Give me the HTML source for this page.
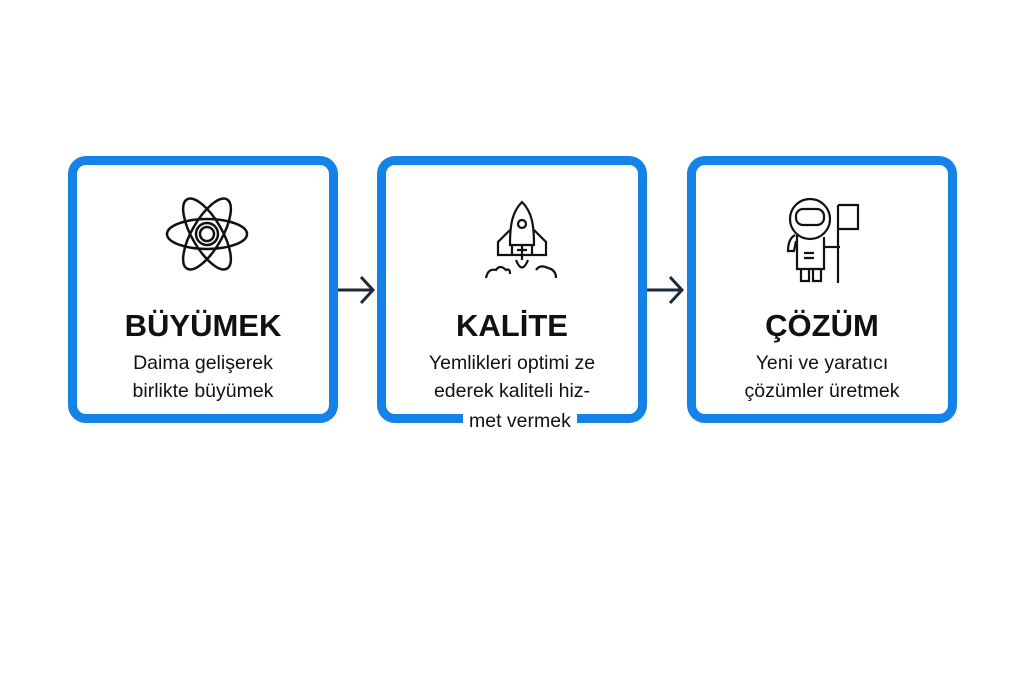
<!DOCTYPE html>
<html><head><meta charset="utf-8"><style>
body{margin:0;width:1024px;height:683px;background:#fff;position:relative;overflow:hidden;font-family:"Liberation Sans",sans-serif;}
.box{position:absolute;top:156px;width:252px;height:249px;border:9px solid #1482e6;border-radius:18px;background:#fff;}
.t{position:absolute;left:0;right:0;top:143px;text-align:center;font-weight:bold;font-size:31px;color:#111;letter-spacing:0px;}
.d{position:absolute;left:0;right:0;top:184px;text-align:center;font-size:19.5px;line-height:28px;color:#111;}
svg{position:absolute;}
</style></head><body>
<div class="box" style="left:68px">
<svg style="left:82px;top:21px" width="96" height="96" viewBox="0 0 96 96" fill="none" stroke="#111" stroke-width="2.5">
<ellipse cx="48" cy="48" rx="40" ry="15"/><ellipse cx="48" cy="48" rx="40" ry="15" transform="rotate(60 48 48)"/><ellipse cx="48" cy="48" rx="40" ry="15" transform="rotate(120 48 48)"/><circle cx="48" cy="48" r="11"/><circle cx="48" cy="48" r="7"/></svg>
<div class="t">BÜYÜMEK</div>
<div class="d">Daima gelişerek<br>birlikte büyümek</div>
</div>
<div class="box" style="left:377px">
<svg style="left:96px;top:35px" width="80" height="85" viewBox="0 0 80 85" fill="none" stroke="#111" stroke-width="2.2">
<path d="M40 2 C30 12 28 25 28 45 L52 45 C52 25 50 12 40 2Z"/><circle cx="40" cy="24" r="4"/><path d="M28 30 L16 42 L16 55 L64 55 L64 42 L52 30"/><path d="M30 45 L30 55 M50 45 L50 55 M35 50 L45 50 M40 45 L40 60"/><path d="M34 60 Q40 75 46 60"/><path d="M4 78 Q6 68 14 70 Q18 64 24 70 Q28 68 28 74"/><path d="M54 70 Q58 64 66 68 Q74 70 74 78"/></svg>
<div class="t">KALİTE</div>
<div class="d">Yemlikleri optimi ze<br>ederek kaliteli hiz-</div>
<div style="position:absolute;left:77px;top:242px;background:#fff;padding:0 6px;font-size:19.5px;line-height:28px;color:#111">met vermek</div>
</div>
<div class="box" style="left:687px">
<svg style="left:86px;top:30px" width="100" height="95" viewBox="0 0 100 95" fill="none" stroke="#111" stroke-width="2.2">
<circle cx="28" cy="24" r="20"/><rect x="14" y="14" width="28" height="16" rx="7"/><path d="M13 40 Q6 44 6 56 L12 56 L14 46"/><path d="M15 40 L15 74 L42 74 L42 42"/><path d="M22 58 L32 58 M22 63 L32 63"/><path d="M19 74 L19 86 L27 86 L27 74 M31 74 L31 86 L39 86 L39 74"/><path d="M42 52 L58 52"/><path d="M56 10 L56 88"/><path d="M56 10 L76 10 L76 34 L56 34"/></svg>
<div class="t">ÇÖZÜM</div>
<div class="d">Yeni ve yaratıcı<br>çözümler üretmek</div>
</div>
<svg style="left:336px;top:272px" width="42" height="36" fill="none" stroke="#1b2b3b" stroke-width="3"><path d="M2 18 L37 18 M25 5 L37 18 L25 31"/></svg>
<svg style="left:645px;top:272px" width="42" height="36" fill="none" stroke="#1b2b3b" stroke-width="3"><path d="M2 18 L37 18 M25 5 L37 18 L25 31"/></svg>
</body></html>
